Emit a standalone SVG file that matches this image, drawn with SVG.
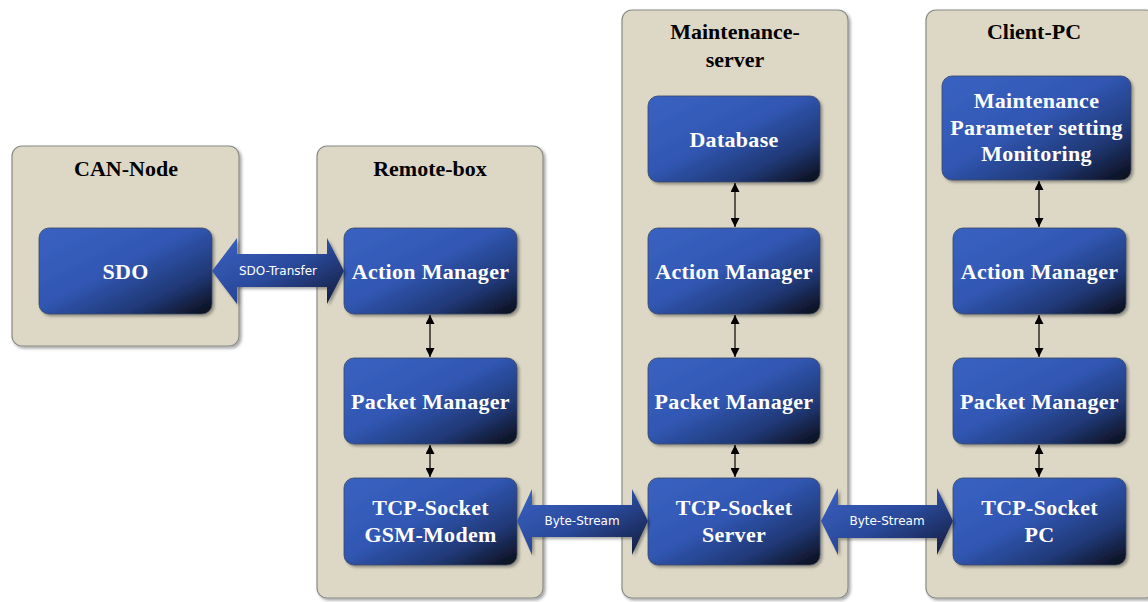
<svg xmlns="http://www.w3.org/2000/svg" width="1148" height="602" viewBox="0 0 1148 602">
<defs>
<linearGradient id="ng" x1="0" y1="0" x2="1" y2="1">
<stop offset="0" stop-color="#3a62c2"/>
<stop offset="0.45" stop-color="#3157b3"/>
<stop offset="0.75" stop-color="#203875"/>
<stop offset="1" stop-color="#0a0c14"/>
</linearGradient>
<linearGradient id="ag" x1="0" y1="0" x2="1" y2="1">
<stop offset="0" stop-color="#3a62c2"/>
<stop offset="0.5" stop-color="#2a4a9c"/>
<stop offset="1" stop-color="#131a36"/>
</linearGradient>
<filter id="sh" x="-10%" y="-10%" width="125%" height="125%">
<feDropShadow dx="2" dy="2" stdDeviation="1.5" flood-color="#000" flood-opacity="0.35"/>
</filter>
<marker id="ah" viewBox="0 0 10 10" refX="10" refY="5" markerWidth="9" markerHeight="9" orient="auto-start-reverse" markerUnits="userSpaceOnUse">
<path d="M0,0 L10,5 L0,10 Z" fill="#000"/>
</marker>
</defs>
<style>
.cont{fill:#ddd8c6;stroke:#8a8a86;stroke-width:1.2;filter:url(#sh)}
.node{fill:url(#ng);stroke:#3a4660;stroke-width:0.8;filter:url(#sh)}
.title{font-family:"Liberation Serif",serif;font-weight:bold;font-size:22px;fill:#000;text-anchor:middle}
.nt{font-family:"Liberation Serif",serif;font-weight:bold;font-size:22px;fill:#fff;text-anchor:middle;letter-spacing:0.3px}
.fat{fill:url(#ag);filter:url(#sh)}
.fl{font-family:"DejaVu Sans",sans-serif;font-size:12px;fill:#fff;text-anchor:middle}
.thin{stroke:#000;stroke-width:1.2;fill:none;marker-start:url(#ah);marker-end:url(#ah)}
</style>
<rect width="1148" height="602" fill="#fff"/>

<g id="can-node">
<rect class="cont" x="12" y="146" width="227" height="200" rx="10"/>
<text class="title" x="126" y="176">CAN-Node</text>
</g>
<g id="remote-box">
<rect class="cont" x="317" y="146" width="226" height="452" rx="10"/>
<text class="title" x="430" y="176">Remote-box</text>
</g>
<g id="maintenance-server">
<rect class="cont" x="622" y="10" width="226" height="588" rx="10"/>
<text class="title" x="735" y="39">Maintenance-</text>
<text class="title" x="735" y="67">server</text>
</g>
<g id="client-pc">
<rect class="cont" x="926" y="10" width="230" height="588" rx="10"/>
<text class="title" x="1034" y="39">Client-PC</text>
</g>

<g id="sdo">
<rect class="node" x="39" y="228" width="173" height="86" rx="10"/>
<text class="nt" x="125.5" y="279">SDO</text>
</g>
<g id="rb-action">
<rect class="node" x="344" y="228" width="173" height="86" rx="10"/>
<text class="nt" x="430.5" y="279">Action Manager</text>
</g>
<g id="rb-packet">
<rect class="node" x="344" y="358" width="173" height="86" rx="10"/>
<text class="nt" x="430.5" y="409">Packet Manager</text>
</g>
<g id="rb-tcp">
<rect class="node" x="344" y="478" width="173" height="87" rx="10"/>
<text class="nt" x="430.5" y="515">TCP-Socket</text>
<text class="nt" x="430.5" y="542">GSM-Modem</text>
</g>

<g id="ms-db">
<rect class="node" x="648" y="96" width="172" height="86" rx="10"/>
<text class="nt" x="734" y="147">Database</text>
</g>
<g id="ms-action">
<rect class="node" x="648" y="228" width="172" height="86" rx="10"/>
<text class="nt" x="734" y="279">Action Manager</text>
</g>
<g id="ms-packet">
<rect class="node" x="648" y="358" width="172" height="86" rx="10"/>
<text class="nt" x="734" y="409">Packet Manager</text>
</g>
<g id="ms-tcp">
<rect class="node" x="648" y="478" width="172" height="87" rx="10"/>
<text class="nt" x="734" y="515">TCP-Socket</text>
<text class="nt" x="734" y="542">Server</text>
</g>

<g id="pc-app">
<rect class="node" x="942" y="76" width="189" height="104" rx="10"/>
<text class="nt" x="1036.5" y="108">Maintenance</text>
<text class="nt" x="1036.5" y="135">Parameter setting</text>
<text class="nt" x="1036.5" y="161">Monitoring</text>
</g>
<g id="pc-action">
<rect class="node" x="953" y="228" width="173" height="86" rx="10"/>
<text class="nt" x="1039.5" y="279">Action Manager</text>
</g>
<g id="pc-packet">
<rect class="node" x="953" y="358" width="173" height="86" rx="10"/>
<text class="nt" x="1039.5" y="409">Packet Manager</text>
</g>
<g id="pc-tcp">
<rect class="node" x="953" y="478" width="173" height="87" rx="10"/>
<text class="nt" x="1039.5" y="515">TCP-Socket</text>
<text class="nt" x="1039.5" y="542">PC</text>
</g>

<g id="connectors">
<path class="fat" d="M212,271 L237,238 L237,254 L327,254 L327,238 L344,271 L327,304 L327,287 L237,287 L237,304 Z"/>
<text class="fl" x="278" y="275">SDO-Transfer</text>
<path class="fat" d="M517,521 L532,489 L532,505 L632,505 L632,489 L648,521 L632,555 L632,537 L532,537 L532,555 Z"/>
<text class="fl" x="582" y="525">Byte-Stream</text>
<path class="fat" d="M821,521 L838,488 L838,505 L937,505 L937,488 L953,521 L937,555 L937,538 L838,538 L838,555 Z"/>
<text class="fl" x="887" y="525">Byte-Stream</text>

<line class="thin" x1="430" y1="315" x2="430" y2="357"/>
<line class="thin" x1="430" y1="445" x2="430" y2="477"/>
<line class="thin" x1="735" y1="183" x2="735" y2="227"/>
<line class="thin" x1="735" y1="315" x2="735" y2="357"/>
<line class="thin" x1="735" y1="445" x2="735" y2="477"/>
<line class="thin" x1="1039" y1="181" x2="1039" y2="227"/>
<line class="thin" x1="1039" y1="315" x2="1039" y2="357"/>
<line class="thin" x1="1039" y1="445" x2="1039" y2="477"/>
</g>
</svg>
